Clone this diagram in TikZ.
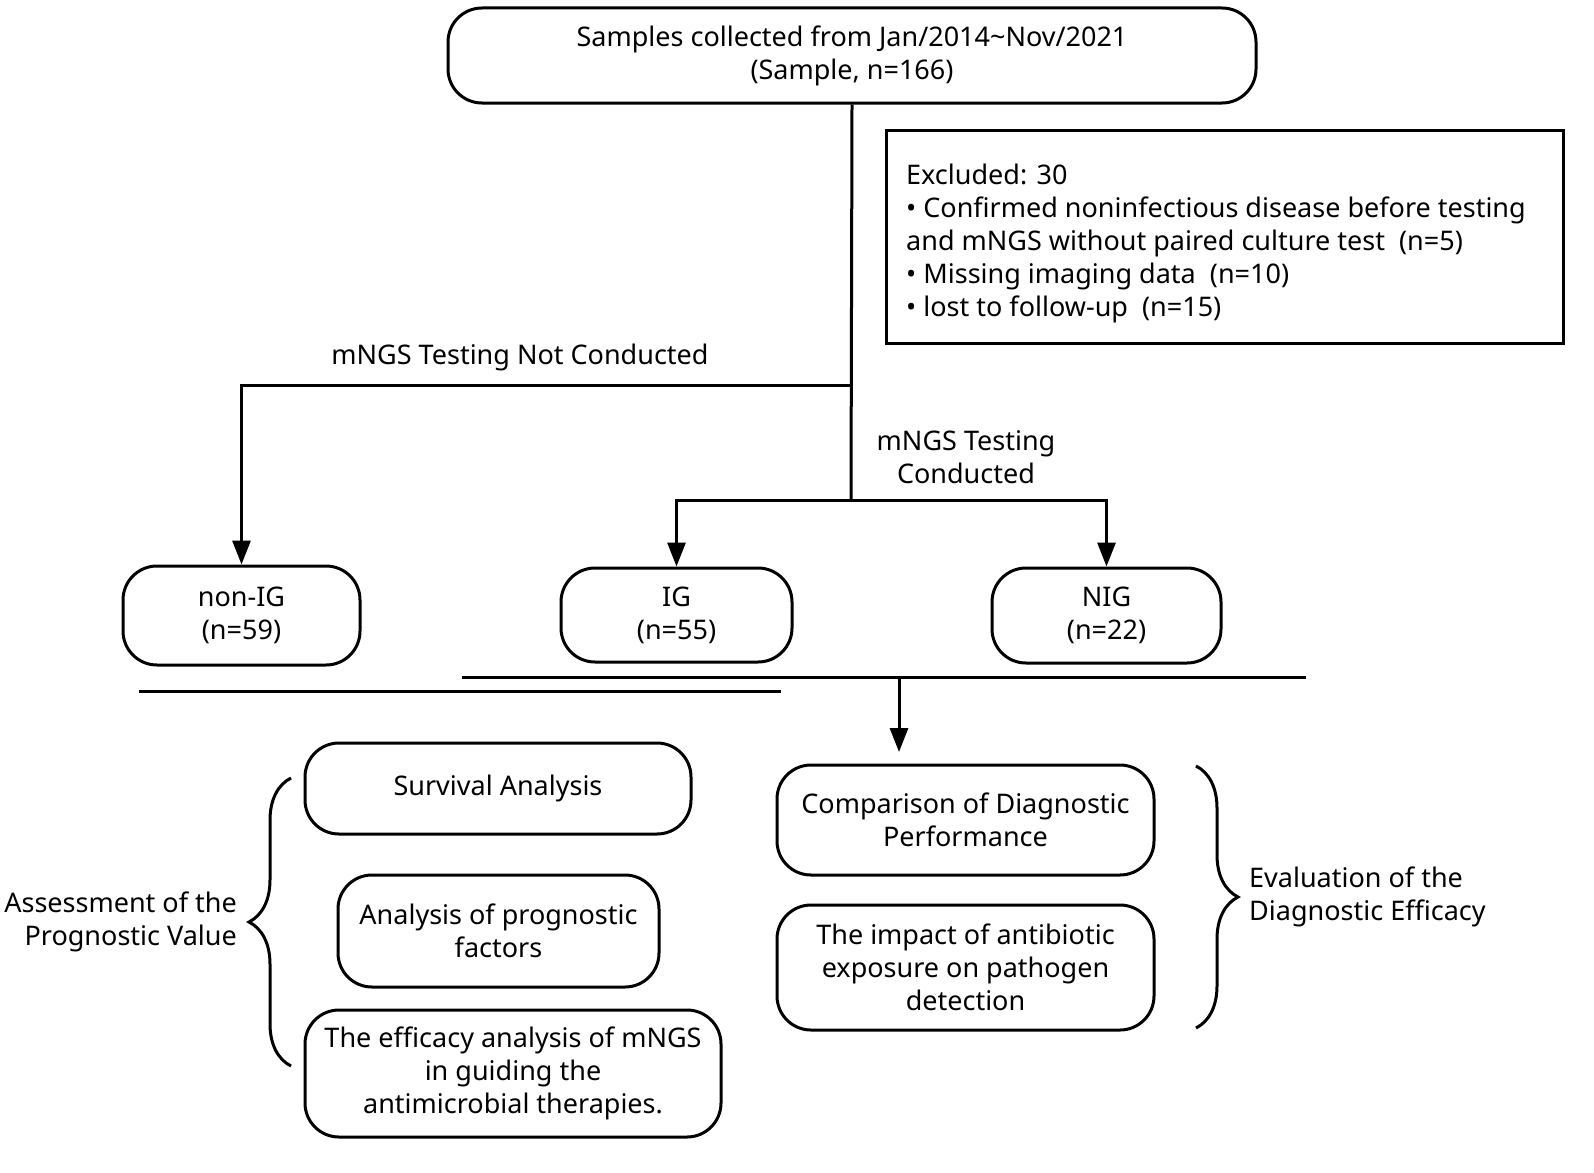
\documentclass[tikz,border=0pt]{standalone}
\usepackage{fontspec}
\setmainfont{Noto Sans}
\usetikzlibrary{arrows.meta,decorations.pathreplacing}
\begin{document}
\begin{tikzpicture}[x=1pt,y=-1pt,
  every node/.style={font=\fontsize{27}{33}\selectfont, align=center},
  rbox/.style={draw, line width=3pt, rounded corners=34pt, inner sep=0pt},
  sbox/.style={draw, line width=3pt, inner sep=0pt},
  ln/.style={line width=3pt},
  arr/.style={line width=3pt, -{Triangle[length=24pt,width=18pt]}},
  brc/.style={line width=3pt, decorate, decoration={brace, amplitude=42pt}},
  lbl/.style={inner sep=0pt}]
\useasboundingbox (0,0) rectangle (1594,1172);
% top box
\node[rbox, minimum width=808pt, minimum height=95pt] (top) at (852,55.5)
  {Samples collected from Jan/2014\textasciitilde Nov/2021\\(Sample, n=166)};
% excluded box
\node[sbox, minimum width=677pt, minimum height=213pt] (excl) at (1224.5,236.5) {};
\node[lbl, anchor=north west, align=left] (excltext) at (906,164)
  {Excluded: 30\\
   • Confirmed noninfectious disease before testing\\
   and mNGS without paired culture test\ \ (n=5)\\
   • Missing imaging data\ \ (n=10)\\
   • lost to follow-up\ \ (n=15)};
% groups
\node[rbox, minimum width=237pt, minimum height=99pt] (nonig) at (241.5,615.5) {non-IG\\(n=59)};
\node[rbox, minimum width=231pt, minimum height=94pt] (ig) at (676.5,615) {IG\\(n=55)};
\node[rbox, minimum width=229pt, minimum height=95pt] (nig) at (1106.5,615.5) {NIG\\(n=22)};
% connectors
\coordinate (c1) at (851,385);
\coordinate (c2) at (851,500);
\draw[ln] (top.south) -- (c2);
\draw[arr] (c1) -| (nonig.north);
\draw[arr] (c2) -| (ig.north);
\draw[arr] (c2) -| (nig.north);
\node[lbl] (lnot) at (520,357) {mNGS Testing Not Conducted};
\node[lbl] (lyes) at (966,457) {mNGS Testing\\Conducted};
% separators
\coordinate (s1a) at (462,677);
\coordinate (s1b) at (1306,677);
\coordinate (s2a) at (139,691);
\coordinate (s2b) at (781,691);
\draw[ln] (s1a) -- (s1b);
\draw[ln] (s2a) -- (s2b);
\coordinate (a0) at (899,677);
\coordinate (a1) at (899,752);
\draw[arr] (a0) -- (a1);
% analysis boxes
\node[rbox, minimum width=386pt, minimum height=91pt] (surv) at (498,788.5) {Survival Analysis};
\node[rbox, minimum width=321pt, minimum height=112pt] (prog) at (498.5,931) {Analysis of prognostic\\factors};
\node[rbox, minimum width=416pt, minimum height=127pt] (eff) at (513,1073.5) {The efficacy analysis of mNGS\\in guiding the\\antimicrobial therapies.};
\node[rbox, minimum width=377pt, minimum height=110pt] (comp) at (965.5,820) {Comparison of Diagnostic\\Performance};
\node[rbox, minimum width=377pt, minimum height=125pt] (imp) at (965.5,967.5) {The impact of antibiotic\\exposure on pathogen\\detection};
% braces
\coordinate (b1a) at (291,1066);
\coordinate (b1b) at (291,778);
\draw[brc] (b1a) -- (b1b);
\coordinate (b2a) at (1196,766);
\coordinate (b2b) at (1196,1028);
\draw[brc] (b2a) -- (b2b);
\node[lbl, anchor=east, align=right] (lass) at (237,922) {Assessment of the\\Prognostic Value};
\node[lbl, anchor=west, align=left] (leva) at (1249,897) {Evaluation of the\\Diagnostic Efficacy};
\end{tikzpicture}
\end{document}
